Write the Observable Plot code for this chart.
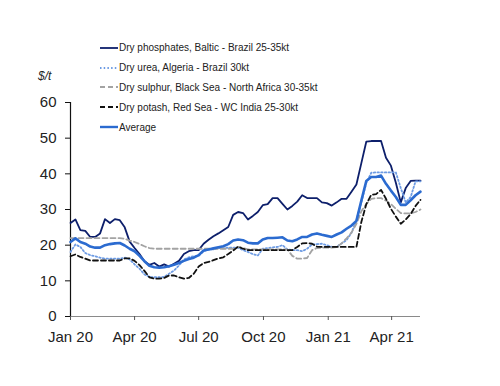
<!DOCTYPE html>
<html><head><meta charset="utf-8">
<script src="https://cdn.jsdelivr.net/npm/d3@7"></script>
<script src="https://cdn.jsdelivr.net/npm/@observablehq/plot@0.6"></script>
<style>
body{margin:0;background:#fff;font-family:"Liberation Sans",Arial,sans-serif;}
#wrap{position:relative;width:500px;height:386px;overflow:hidden;}
#legend{position:absolute;left:100px;top:38px;font-size:10px;color:#222;}
.item{display:flex;align-items:center;height:19.8px;white-space:nowrap;}
.item svg{margin-right:1px;}
#unit{position:absolute;left:38px;top:69px;font-style:italic;font-size:12px;color:#222;}
</style></head>
<body>
<div id="wrap"><div id="chart"></div><div id="unit">$/t</div><div id="legend"></div></div>
<script>
const weeks = ["2020-01-01","2020-01-08","2020-01-15","2020-01-22","2020-01-29","2020-02-05","2020-02-12","2020-02-19","2020-02-26","2020-03-04","2020-03-11","2020-03-18","2020-03-25","2020-04-01","2020-04-08","2020-04-15","2020-04-22","2020-04-29","2020-05-06","2020-05-13","2020-05-20","2020-05-27","2020-06-03","2020-06-10","2020-06-17","2020-06-24","2020-07-01","2020-07-08","2020-07-15","2020-07-22","2020-07-29","2020-08-05","2020-08-12","2020-08-19","2020-08-26","2020-09-02","2020-09-09","2020-09-16","2020-09-23","2020-09-30","2020-10-07","2020-10-14","2020-10-21","2020-10-28","2020-11-04","2020-11-11","2020-11-18","2020-11-25","2020-12-02","2020-12-09","2020-12-16","2020-12-23","2020-12-30","2021-01-06","2021-01-13","2021-01-20","2021-01-27","2021-02-03","2021-02-10","2021-02-17","2021-02-24","2021-03-03","2021-03-10","2021-03-17","2021-03-24","2021-03-31","2021-04-07","2021-04-14","2021-04-21","2021-04-28","2021-05-05","2021-05-12"];

const phosphates = [26.2,27.2,24.2,24,22.3,22.3,23.3,27.3,26.2,27.3,27,25,21,19.2,17.5,15.5,14.5,15,14,14.6,14,14.8,15.6,17.5,18.3,18.6,18.6,20.4,21.5,22.5,23.3,24.2,25.1,28.5,29.3,29,27.2,28.2,29.3,31.2,31.5,33.2,33.2,31.6,30,31,32.2,34,33.2,33.2,33.2,32,31.8,31.1,32,33,33,35,37,43,49,49.2,49.2,49.2,44.5,42.3,37.5,32,36,38,38.1,38.1];
const urea = [18.1,20.2,19.5,17.8,17.2,16.9,16.5,16.2,16.2,16.2,16.2,16.5,16,14.6,13.4,11.8,11.1,11,11,11.1,12,12.9,14.3,16,16.6,16.9,17,18.3,18.8,18.8,19.2,19.1,19.3,19.3,19.3,18.6,18.1,17.5,17.1,19,19.2,19.4,19.5,20,18.8,18.6,18.6,18.3,19,20.2,20.3,20.4,20,19.5,19.5,20.5,21.4,23.5,27,32,37.4,40.3,40.4,40.4,40.4,40.4,40.4,36,32,33.5,37.9,37.9];
const sulphur = [22,22,22,22,22,22,22,22,22,22,22,21.8,21.3,20.9,20.3,19.7,19.2,19,19,19,19,19,19,19,19,19,19,19,19,19,19,19,19,19,19.5,19.2,18.8,18.8,18.8,18.8,18.8,18.8,18.8,18.8,18.8,17,16.2,16.2,16.4,18.6,19.2,19.3,19.3,19.3,19.5,20.5,21.9,23.5,26,29.5,31.5,33,33.2,33.2,32.5,31.5,30.2,29,28.9,28.9,29.3,30];
const potash = [16.9,17.4,16.7,16.2,15.7,15.7,15.7,15.7,15.7,15.7,15.7,16.3,16.3,15.6,14.4,12.8,11,10.6,10.6,10.8,11.5,11.5,11,10.6,10.8,12,14,15,15.3,15.8,16.3,16.6,17.5,18.5,19.6,19,18.6,18.6,18.6,18.6,18.6,18.6,18.6,18.6,18.6,18.6,19.5,20.5,20.6,20.4,19.6,19.5,19.5,19.5,19.5,19.5,19.5,19.5,19.5,26.5,31.5,34.1,34.3,35.5,33,30.2,28,26,27.2,28.7,31,32.7];
const average = [20.9,21.9,20.9,20.4,19.6,19.3,19.3,20,20.3,20.5,20.6,19.9,19,18.3,17,15.5,14.2,13.8,13.7,13.8,14.1,14.5,15,15.6,16.1,16.5,17.2,18.5,18.8,19.1,19.4,19.7,20.3,21.3,21.6,21.4,20.7,20.5,20.5,21.6,22,22,22.1,22.2,21.3,21.1,21.6,22.3,22.3,23,23.3,22.9,22.6,22.3,23,23.6,24.6,25.5,26.8,32.5,38,39.1,39.1,39.5,37.2,35.3,33.5,31.3,31.3,32.6,34,35];

const seriesNames = ["Dry phosphates, Baltic - Brazil 25-35kt","Dry urea, Algeria - Brazil 30kt","Dry sulphur, Black Sea - North Africa 30-35kt","Dry potash, Red Sea - WC India 25-30kt","Average"];
const yTicks = [0,10,20,30,40,50,60];
const xTicks = ["2020-01-01","2020-04-01","2020-07-01","2020-10-01","2021-01-01","2021-04-01"];

const styles = [
  {stroke:"#0d1f6b", strokeWidth:1.8, dash:null},
  {stroke:"#6d9be3", strokeWidth:1.8, dash:"1.5,2.2"},
  {stroke:"#a3a3a3", strokeWidth:1.8, dash:"5,3"},
  {stroke:"#111111", strokeWidth:1.8, dash:"5,3"},
  {stroke:"#2b6bd0", strokeWidth:2.6, dash:null}
];
const values = [phosphates, urea, sulphur, potash, average];
const parse = d3.utcParse("%Y-%m-%d");
const dates = weeks.map(parse);

const lineMarks = values.map((arr, k) => {
  const rows = arr.map((v, i) => ({date: dates[i], v}));
  return Plot.line(rows, {x:"date", y:"v", stroke: styles[k].stroke, strokeWidth: styles[k].strokeWidth,
    strokeDasharray: styles[k].dash, strokeLinejoin:"round"});
});

const chart = Plot.plot({
  width: 500, height: 386,
  marginLeft: 70, marginRight: 80, marginTop: 102, marginBottom: 70,
  style: {fontFamily: '"Liberation Sans", Arial, sans-serif', fontSize: "15px", background: "#fff", color: "#222"},
  x: {type: "utc", domain: [dates[0], dates[dates.length - 1]]},
  y: {domain: [0, 60]},
  marks: [
    Plot.ruleY([0], {stroke: "#8a8a8a", strokeWidth: 1.2}),
    Plot.axisX({ticks: xTicks.map(parse), tickFormat: d3.utcFormat("%b %y"), tickSize: 4, tickPadding: 11,
      label: null, stroke: "#555", fill: "#222", fontSize: 15}),
    Plot.axisY({ticks: yTicks, tickSize: 5, tickPadding: 9, label: null, stroke: "#111", fill: "#222", fontSize: 15}),
    Plot.ruleX([dates[0]], {y1: 0, y2: 60, stroke: "#111", strokeWidth: 1.2}),
    ...lineMarks
  ]
});
document.getElementById("chart").appendChild(chart);

const leg = document.getElementById("legend");
seriesNames.forEach((name, k) => {
  const s = styles[k];
  const item = document.createElement("div");
  item.className = "item";
  item.innerHTML = `<svg width="18" height="6"><line x1="0" y1="3" x2="18" y2="3" stroke="${s.stroke}" stroke-width="${k===4?2.4:1.8}" ${s.dash?`stroke-dasharray="${s.dash}"`:""}/></svg><span>${name}</span>`;
  leg.appendChild(item);
});
</script>
</body></html>
